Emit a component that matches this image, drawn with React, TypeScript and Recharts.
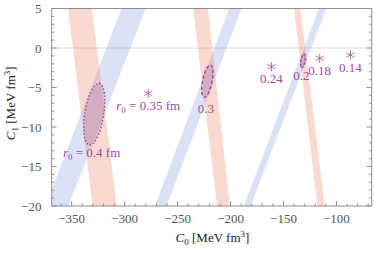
import React from 'react';
import { ScatterChart, Scatter, XAxis, YAxis, ReferenceLine } from 'recharts';

// ---------- axes ----------
const X_DOMAIN: [number, number] = [-368.9, -66.7];
const Y_DOMAIN: [number, number] = [-20, 5];
const xMajorTicks = [-350, -300, -250, -200, -150, -100];
const xMinorTicks = [-360, -340, -330, -320, -310, -290, -280, -270, -260, -240, -230, -220, -210, -190, -180, -170, -160, -140, -130, -120, -110, -90, -80, -70];
const yMajorTicks = [5, 0, -5, -10, -15, -20];
const yMinorTicks = [4, 3, 2, 1, -1, -2, -3, -4, -6, -7, -8, -9, -11, -12, -13, -14, -16, -17, -18, -19];

// ---------- bands (corners: top-left, top-right, bottom-right, bottom-left) ----------
const bandCornerC1 = [5, 5, -20, -20];
const salmonBandsC0 = [
  [-353.5, -330.9, -307.5, -330.2],
  [-235.3, -221.2, -200.7, -212.7],
  [-140.0, -134.0, -111.1, -118.0],
];
const blueBandsC0 = [
  [-302.9, -280.0, -353.2, -374.8],
  [-201.4, -189.7, -260.4, -271.4],
  [-116.5, -109.5, -181.2, -187.5],
];

// ---------- ellipses (boundary points) ----------
const ellipseR0 = ['0.4', '0.3', '0.2'];
const ellipseC0 = [
  [-324.0, -320.2, -318.7, -319.9, -323.4, -328.4, -333.4, -337.2, -338.7, -337.6, -334.0, -329.1],
  [-218.9, -217.1, -216.6, -217.5, -219.6, -222.3, -224.9, -226.7, -227.2, -226.3, -224.2, -221.5],
  [-130.6, -129.5, -129.7, -131.1, -132.8, -133.8, -133.6, -132.3],
];
const ellipseC1 = [
  [-4.47, -5.09, -6.59, -8.57, -10.5, -11.86, -12.28, -11.67, -10.17, -8.19, -6.26, -4.9],
  [-2.15, -2.48, -3.27, -4.31, -5.32, -6.03, -6.24, -5.91, -5.12, -4.08, -3.07, -2.37],
  [-0.76, -1.05, -1.67, -2.27, -2.49, -2.21, -1.58, -0.98],
];
const ellipseLabelC0 = [-331.2, -223.3, -133.1];
const ellipseLabelC1 = [-13.2, -7.63, -3.42];
const ellipseLabelFull = [true, false, false];

// ---------- asterisk markers ----------
const markerR0 = ['0.35', '0.24', '0.18', '0.14'];
const markerC0 = [-277.8, -161.4, -115.8, -86.8];
const markerC1 = [-5.73, -2.37, -1.3, -0.89];
const markerLabelFull = [true, false, false, false];

// ---------- styles ----------
const FONT = 'Liberation Serif';
const FRAME = '#8f8f8f';
const TICK_TEXT = '#555';
const PURPLE = '#a04a9e';
const SALMON = 'rgba(240,130,100,0.3)';
const BLUE = 'rgba(110,140,220,0.25)';
const ELLIPSE_FILL = 'rgba(160,80,160,0.2)';
const ellipseDash = ['1.5 2', '3.5 2', '3 1.2'];

const fmt = (v: number) => (v < 0 ? '\u2212' + Math.abs(v) : String(v));

const toPts = (c0s: number[], c1s: number[]) => c0s.map((c0, i) => ({ c0, c1: c1s[i] }));
const salmonData = salmonBandsC0.map((b) => toPts(b, bandCornerC1));
const blueData = blueBandsC0.map((b) => toPts(b, bandCornerC1));
const ellipseData = ellipseC0.map((e, i) => toPts(e, ellipseC1[i]));
const ellipseLabelData = ellipseLabelC0.map((c0, i) => ({ c0, c1: ellipseLabelC1[i], r0: ellipseR0[i], full: ellipseLabelFull[i] }));
const markerData = markerC0.map((c0, i) => ({ c0, c1: markerC1[i], r0: markerR0[i], full: markerLabelFull[i] }));

const xTicks = [...xMajorTicks, ...xMinorTicks].sort((a, b) => a - b);
const yTicks = [...yMajorTicks, ...yMinorTicks].sort((a, b) => a - b);

type P = { x: number; y: number };
const polyPath = (pts: P[]) => 'M' + pts.map((p) => `${p.x},${p.y}`).join('L') + 'Z';
const smoothClosedPath = (pts: P[]) => {
  const n = pts.length;
  let d = `M${pts[0].x},${pts[0].y}`;
  for (let i = 0; i < n; i++) {
    const p0 = pts[(i - 1 + n) % n];
    const p1 = pts[i];
    const p2 = pts[(i + 1) % n];
    const p3 = pts[(i + 2) % n];
    const c1x = p1.x + (p2.x - p0.x) / 6;
    const c1y = p1.y + (p2.y - p0.y) / 6;
    const c2x = p2.x - (p3.x - p1.x) / 6;
    const c2y = p2.y - (p3.y - p1.y) / 6;
    d += `C${c1x},${c1y} ${c2x},${c2y} ${p2.x},${p2.y}`;
  }
  return d + 'Z';
};

const Empty = () => <g />;

const R0Label = ({ x, y, r0, full }: { x: number; y: number; r0: string; full: boolean }) => (
  <text x={x} y={y} dy="0.35em" textAnchor="middle" fontFamily={FONT} fontSize={13} fill={PURPLE}>
    {full ? (
      <>
        <tspan fontStyle="italic">r</tspan>
        <tspan fontSize={9} dy={3}>0</tspan>
        <tspan dy={-3}>{` = ${r0} fm`}</tspan>
      </>
    ) : (
      r0
    )}
  </text>
);

const AsteriskShape = (props: any) => {
  const { cx, cy, payload } = props;
  const r = 4.7;
  const arms = [90, 30, 150].map((deg) => {
    const a = (deg * Math.PI) / 180;
    return { dx: r * Math.cos(a), dy: r * Math.sin(a) };
  });
  return (
    <g>
      {arms.map((a, i) => (
        <line key={i} x1={cx - a.dx} y1={cy - a.dy} x2={cx + a.dx} y2={cy + a.dy} stroke={PURPLE} strokeWidth={0.8} />
      ))}
      <R0Label x={cx} y={cy + 12} r0={payload.r0} full={payload.full} />
    </g>
  );
};

const LabelShape = (props: any) => {
  const { cx, cy, payload } = props;
  return <R0Label x={cx} y={cy} r0={payload.r0} full={payload.full} />;
};

const BottomTick = (props: any) => {
  const { x, y, payload } = props;
  const major = xMajorTicks.includes(payload.value);
  return (
    <g>
      <line x1={x} x2={x} y1={y} y2={y - (major ? 5 : 2.5)} stroke={FRAME} />
      {major && (
        <text x={x} y={y + 12.3} dy="0.35em" textAnchor="middle" fontFamily={FONT} fontSize={13} fill={TICK_TEXT}>
          {fmt(payload.value)}
        </text>
      )}
    </g>
  );
};
const TopTick = (props: any) => {
  const { x, y, payload } = props;
  const major = xMajorTicks.includes(payload.value);
  return <line x1={x} x2={x} y1={y} y2={y + (major ? 5 : 2.5)} stroke={FRAME} />;
};
const LeftTick = (props: any) => {
  const { x, y, payload } = props;
  const major = yMajorTicks.includes(payload.value);
  return (
    <g>
      <line x1={x} x2={x + (major ? 5 : 2.5)} y1={y} y2={y} stroke={FRAME} />
      {major && (
        <text x={x - 10.3} y={y} dy="0.35em" textAnchor="end" fontFamily={FONT} fontSize={13} fill={TICK_TEXT}>
          {fmt(payload.value)}
        </text>
      )}
    </g>
  );
};
const RightTick = (props: any) => {
  const { x, y, payload } = props;
  const major = yMajorTicks.includes(payload.value);
  return <line x1={x} x2={x - (major ? 5 : 2.5)} y1={y} y2={y} stroke={FRAME} />;
};

const XTitle = (props: any) => {
  const vb = props.viewBox;
  const x = vb.x + vb.width / 2 + 0.8;
  const y = vb.y + 31.3;
  return (
    <text x={x} y={y} dy="0.35em" textAnchor="middle" fontFamily={FONT} fontSize={13} fill="#222">
      <tspan fontStyle="italic">C</tspan>
      <tspan fontSize={9} dy={3}>0</tspan>
      <tspan dy={-3}>{' [MeV fm'}</tspan>
      <tspan fontSize={9} dy={-5}>3</tspan>
      <tspan dy={5}>]</tspan>
    </text>
  );
};
const YTitle = (props: any) => {
  const vb = props.viewBox;
  const x = 10;
  const y = vb.y + vb.height / 2 - 4;
  return (
    <text x={x} y={y} dy="0.35em" textAnchor="middle" fontFamily={FONT} fontSize={13} fill="#222" transform={`rotate(-90, ${x}, ${y})`}>
      <tspan fontStyle="italic">C</tspan>
      <tspan fontSize={9} dy={3}>1</tspan>
      <tspan dy={-3}>{' [MeV fm'}</tspan>
      <tspan fontSize={9} dy={-5}>3</tspan>
      <tspan dy={5}>]</tspan>
    </text>
  );
};

export default function App() {
  return (
    <div style={{ position: 'absolute', left: 0, top: 0, width: 374, height: 253, background: '#fff' }}>
      <ScatterChart width={374} height={253} margin={{ top: 0.5, right: 0, bottom: 0, left: 0 }}>
        <XAxis
          xAxisId="b"
          dataKey="c0"
          type="number"
          domain={X_DOMAIN}
          allowDataOverflow
          ticks={xTicks}
          interval={0}
          tickSize={0}
          tickMargin={0}
          tickLine={false}
          tick={BottomTick}
          height={47}
          axisLine={{ stroke: FRAME }}
          label={{ content: XTitle }}
        />
        <XAxis
          xAxisId="t"
          orientation="top"
          type="number"
          domain={X_DOMAIN}
          allowDataOverflow
          ticks={xTicks}
          interval={0}
          tickSize={0}
          tickMargin={0}
          tickLine={false}
          tick={TopTick}
          height={8}
          axisLine={{ stroke: FRAME }}
        />
        <YAxis
          yAxisId="l"
          dataKey="c1"
          type="number"
          domain={Y_DOMAIN}
          allowDataOverflow
          ticks={yTicks}
          interval={0}
          tickSize={0}
          tickMargin={0}
          tickLine={false}
          tick={LeftTick}
          width={51.7}
          axisLine={{ stroke: FRAME }}
          label={{ content: YTitle }}
        />
        <YAxis
          yAxisId="r"
          orientation="right"
          type="number"
          domain={Y_DOMAIN}
          allowDataOverflow
          ticks={yTicks}
          interval={0}
          tickSize={0}
          tickMargin={0}
          tickLine={false}
          tick={RightTick}
          width={2.3}
          axisLine={{ stroke: FRAME }}
        />
        <ReferenceLine xAxisId="b" yAxisId="l" y={0} stroke="#dcdcdc" strokeWidth={1} />
        {blueData.map((d, i) => (
          <Scatter
            key={'blue' + i}
            xAxisId="b"
            yAxisId="l"
            data={d}
            isAnimationActive={false}
            shape={Empty}
            line={(p: any) => <path d={polyPath(p.points)} fill={BLUE} stroke="none" />}
          />
        ))}
        {salmonData.map((d, i) => (
          <Scatter
            key={'salmon' + i}
            xAxisId="b"
            yAxisId="l"
            data={d}
            isAnimationActive={false}
            shape={Empty}
            line={(p: any) => <path d={polyPath(p.points)} fill={SALMON} stroke="none" />}
          />
        ))}
        {ellipseData.map((d, i) => (
          <Scatter
            key={'ell' + i}
            xAxisId="b"
            yAxisId="l"
            data={d}
            isAnimationActive={false}
            shape={Empty}
            line={(p: any) => (
              <path
                d={smoothClosedPath(p.points)}
                fill={ELLIPSE_FILL}
                stroke={PURPLE}
                strokeWidth={1.4}
                strokeDasharray={ellipseDash[i]}
              />
            )}
          />
        ))}
        <Scatter xAxisId="b" yAxisId="l" data={ellipseLabelData} isAnimationActive={false} shape={LabelShape} />
        <Scatter xAxisId="b" yAxisId="l" data={markerData} isAnimationActive={false} shape={AsteriskShape} />
      </ScatterChart>
    </div>
  );
}
